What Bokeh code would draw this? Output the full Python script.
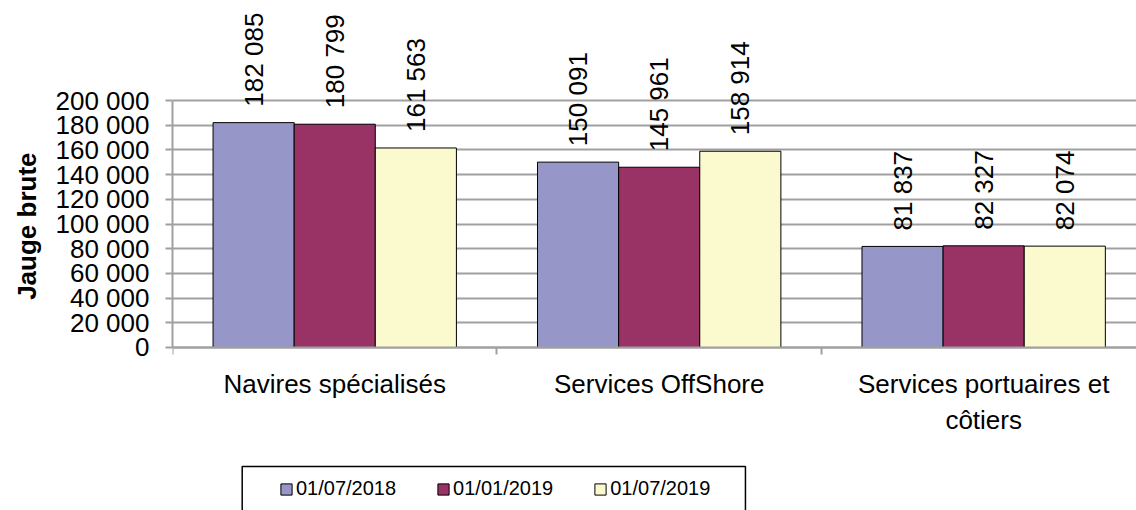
from bokeh.plotting import figure
from bokeh.models import (ColumnDataSource, Range1d, FixedTicker, LabelSet,
                          BoxAnnotation, Title, LinearAxis)
from bokeh.core.properties import value
from bokeh.embed import file_html
from bokeh.resources import INLINE

categories = ["Navires spécialisés", "Services OffShore", "Services portuaires et\ncôtiers"]
series_names = ["01/07/2018", "01/01/2019", "01/07/2019"]
v_2018_07 = [182085, 150091, 81837]
v_2019_01 = [180799, 145961, 82327]
v_2019_07 = [161563, 158914, 82074]
colors = ["#9696C8", "#993366", "#FBF9CE"]
y_ticks = [0, 20000, 40000, 60000, 80000, 100000, 120000, 140000, 160000, 180000, 200000]

FONT = "Liberation Sans"
GRID = "#a0a0a0"

# frame covers the whole canvas right of the y axis; 0 sits at y=347px, 200 000 at y=100px
p = figure(width=1136, height=510, output_backend="svg", toolbar_location=None,
           x_range=Range1d(0, 2.971), y_range=Range1d(-131984, 280972),
           min_border_left=172, min_border_right=0, min_border_top=0,
           min_border_bottom=0, x_axis_location=None)
p.outline_line_color = None
p.background_fill_color = "white"
p.border_fill_color = "white"

series = [v_2018_07, v_2019_01, v_2019_07]
offsets = [-0.25, 0.0, 0.25]
for vals, name, col, off in zip(series, series_names, colors, offsets):
    xs = [i + 0.5 + off for i in range(len(categories))]
    src = ColumnDataSource(dict(x=xs, top=vals,
                                lab=[f"{v:,}".replace(",", " ") for v in vals]))
    p.vbar(x="x", top="top", width=0.25, bottom=0, source=src,
           fill_color=col, line_color="black", line_width=1,
           legend_label=name)
    ls = LabelSet(x="x", y="top", text="lab", source=src, angle=1.5707963,
                  text_align="left", text_baseline="middle", y_offset=16,
                  text_font=value(FONT), text_font_size=value("26px"),
                  text_color="black")
    p.add_layout(ls)

# grid
p.xgrid.grid_line_color = None
p.ygrid.grid_line_color = GRID
p.ygrid.grid_line_width = 2
p.ygrid.ticker = FixedTicker(ticks=y_ticks)

# y axis
ya = p.yaxis[0]
ya.bounds = (0, 200000)
ya.ticker = FixedTicker(ticks=y_ticks, minor_ticks=[])
ya.major_label_overrides = {t: f"{t:,}".replace(",", " ") for t in y_ticks}
ya.axis_line_color = GRID
ya.axis_line_width = 2
ya.major_tick_line_color = GRID
ya.major_tick_line_width = 2
ya.major_tick_in = 0
ya.major_tick_out = 7
ya.minor_tick_line_color = None
ya.major_label_standoff = 16
ya.major_label_text_font = FONT
ya.major_label_text_font_size = "26px"
ya.major_label_text_color = "black"

ytitle = Title(text="Jauge brute", align="right", offset=152,
               vertical_align="top",
               text_font=FONT, text_font_size="26px", text_font_style="bold",
               text_color="black", standoff=18)
p.add_layout(ytitle, "left")

# x axis, fixed at y = 0 inside the frame
xa = LinearAxis(fixed_location=0)
p.add_layout(xa, "below")
centers = [i + 0.5 for i in range(len(categories))]
bounds = [float(i) for i in range(len(categories) + 1)]
xa.ticker = FixedTicker(ticks=centers, minor_ticks=bounds)
xa.major_label_overrides = {c: lab for c, lab in zip(centers, categories)}
xa.axis_line_color = GRID
xa.axis_line_width = 2
xa.major_tick_line_color = None
xa.major_tick_in = 0
xa.major_tick_out = 0
xa.minor_tick_line_color = GRID
xa.minor_tick_line_width = 2
xa.minor_tick_in = 0
xa.minor_tick_out = 7
xa.major_label_standoff = 15
xa.major_label_text_font = FONT
xa.major_label_text_font_size = "26px"
xa.major_label_text_color = "black"

# legend
lg = p.legend[0]
lg.orientation = "horizontal"
lg.location = (107, 10)
lg.margin = 0
lg.padding = 0
lg.spacing = 40
lg.glyph_width = 14
lg.glyph_height = 14
lg.label_standoff = 3
lg.label_text_font = FONT
lg.label_text_font_size = "20px"
lg.label_text_color = "black"
lg.border_line_color = None
lg.background_fill_alpha = 0

box = BoxAnnotation(left=0.2148, right=1.7658, top=-96357, bottom=-150000,
                    fill_alpha=0, line_color="black", line_width=1.5, line_alpha=1)
p.add_layout(box)

open("out.html", "w").write(file_html(p, INLINE))
